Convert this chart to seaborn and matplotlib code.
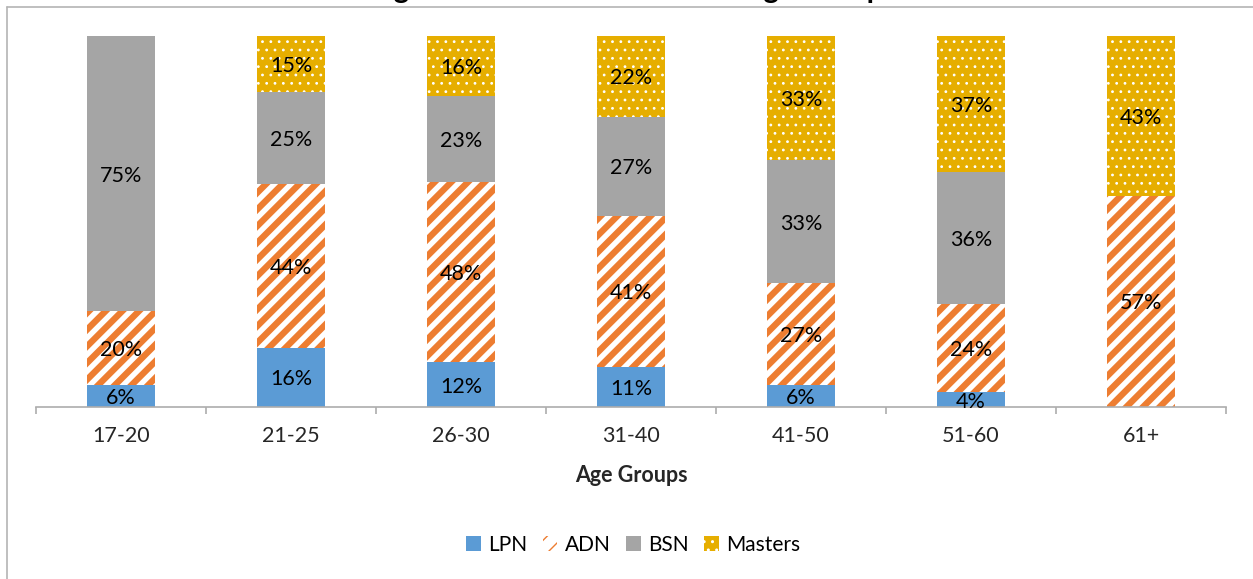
import numpy as np
import pandas as pd
import matplotlib
matplotlib.use("Agg")
import matplotlib.pyplot as plt
import seaborn as sns
from matplotlib.patches import Patch
from matplotlib.lines import Line2D

# Highest nursing degree by age group (percent of each group)
age_groups = ["17-20", "21-25", "26-30", "31-40", "41-50", "51-60", "61+"]
lpn = [6, 16, 12, 11, 6, 4, 0]
adn = [20, 44, 48, 41, 27, 24, 57]
bsn = [75, 25, 23, 27, 33, 36, 0]
masters = [0, 15, 16, 22, 33, 37, 43]
series_names = ["LPN", "ADN", "BSN", "Masters"]
title_text = "Degree Attained Within Each Age Group"

sns.set_theme(style="white")
plt.rcParams["font.family"] = ["Lato", "DejaVu Sans"]
plt.rcParams["text.color"] = "black"

values = np.array([lpn, adn, bsn, masters], dtype=float)
shares = values / values.sum(axis=0) * 100      # 100% stacked columns
tops = shares.cumsum(axis=0)

styles = {
    "LPN": dict(face="#5B9BD5", hatch=None, edge="#5B9BD5", hlw=1.0),
    "ADN": dict(face="white", hatch="//", edge="#ED7D31", hlw=4.6),
    "BSN": dict(face="#A5A5A5", hatch=None, edge="#A5A5A5", hlw=1.0),
    "Masters": dict(face="#E6AE00", hatch="..", edge="white", hlw=0.8),
}

W, H = 1253, 579
fig = plt.figure(figsize=(W / 100, H / 100), dpi=100)
ax = fig.add_axes([36 / W, 1 - 407 / H, (1226 - 36) / W, (407 - 36) / H])

# draw cumulative tops from the outermost layer inwards so each segment shows
for i in reversed(range(len(series_names))):
    st = styles[series_names[i]]
    df = pd.DataFrame({"age": age_groups, "top": tops[i]})
    with plt.rc_context({"hatch.linewidth": st["hlw"]}):
        sns.barplot(data=df, x="age", y="top", order=age_groups,
                    color=st["face"], saturation=1, errorbar=None,
                    hatch=st["hatch"], edgecolor=st["edge"], linewidth=0,
                    width=0.4, ax=ax)
    for p in ax.containers[-1]:
        if hasattr(p, "set_hatch_linewidth"):
            p.set_hatch_linewidth(st["hlw"])

# segment labels
label_size = 15.5
for i in range(len(series_names)):
    for j in range(len(age_groups)):
        v = values[i, j]
        if v > 0:
            ax.text(j, tops[i, j] - shares[i, j] / 2, f"{int(v)}%",
                    ha="center", va="center_baseline", fontsize=label_size,
                    color="black")

axis_grey = "#ADADAD"
ax.set_xlim(-0.5, len(age_groups) - 0.5)
ax.set_ylim(0, 100)
for s in ["left", "right", "top"]:
    ax.spines[s].set_visible(False)
ax.spines["bottom"].set_color(axis_grey)
ax.spines["bottom"].set_linewidth(1.2)
ax.set_yticks([])
ax.set_ylabel("")
ax.set_xticks(range(len(age_groups)))
ax.set_xticklabels(age_groups, fontsize=label_size)
ax.set_xticks(np.arange(-0.5, len(age_groups), 1), minor=True)
ax.tick_params(axis="x", which="major", length=0, pad=14)
ax.tick_params(axis="x", which="minor", length=5, width=1.2, color=axis_grey,
               direction="out", bottom=True)
ax.set_xlabel("Age Groups", fontsize=label_size, fontweight="bold")
ax.xaxis.label.set_va("center")
ax.xaxis.set_label_coords(0.5, (407 - 475) / (407 - 36))

# legend
handles = []
for name in series_names:
    st = styles[name]
    with plt.rc_context({"hatch.linewidth": st["hlw"]}):
        handles.append(Patch(facecolor=st["face"], edgecolor=st["edge"],
                             hatch=st["hatch"], linewidth=0, label=name))
fig.legend(handles=handles, loc="center", bbox_to_anchor=(633 / W, 1 - 545 / H),
           ncol=4, frameon=False, fontsize=15, handlelength=0.7,
           handleheight=0.7, handletextpad=0.35, columnspacing=0.75)

# chart frame and the clipped title above it
frame = "#B4B4B4"
fig.add_artist(Line2D([7 / W, 7 / W], [0, 1 - 7 / H], transform=fig.transFigure,
                      color=frame, lw=1.2))
fig.add_artist(Line2D([7 / W, 1], [1 - 7 / H, 1 - 7 / H], transform=fig.transFigure,
                      color=frame, lw=1.2))
fig.text(356 / W, 1 + 2 / H, title_text, ha="left", va="baseline",
         fontsize=21, fontweight="bold")

fig.savefig("out.png", dpi=100, facecolor="white")
